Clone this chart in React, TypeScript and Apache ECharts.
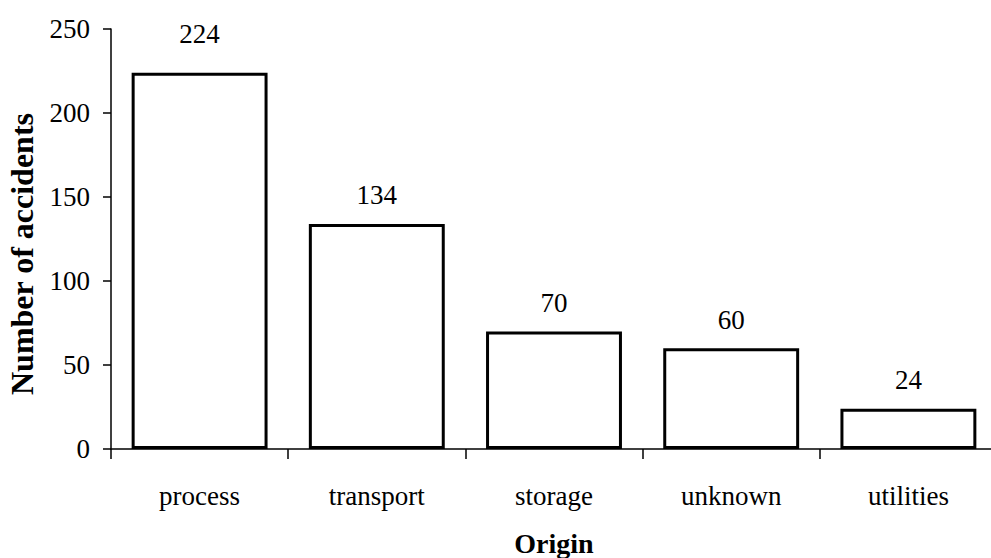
import React, { useEffect, useRef } from "react";
import * as echarts from "echarts";

// Accidents by origin
const origins = ["process", "transport", "storage", "unknown", "utilities"];
const accidentCounts = [224, 134, 70, 60, 24];
const yTicks = { min: 0, max: 250, interval: 50 };

const FONT = "Liberation Serif";

export default function App() {
  const ref = useRef<HTMLDivElement>(null);

  useEffect(() => {
    if (!ref.current) return;
    const chart = echarts.init(ref.current, null, { renderer: "svg" });
    // the tallest bar's label sits a little higher than the rest
    const barData = accidentCounts.map((v, i) =>
      i === 0 ? { value: v, label: { distance: 25 } } : v
    );
    chart.setOption({
      animation: false,
      backgroundColor: "#ffffff",
      textStyle: { fontFamily: FONT, color: "#000" },
      grid: {
        left: 111,
        right: 0,
        top: 29,
        bottom: 109,
        containLabel: false,
        outerBoundsMode: "none",
      },
      xAxis: {
        type: "category",
        data: origins,
        boundaryGap: true,
        axisLine: { show: true, lineStyle: { color: "#000", width: 1.5 } },
        axisTick: { show: true, inside: false, length: 10, lineStyle: { color: "#000", width: 1.5 } },
        axisLabel: { color: "#000", fontFamily: FONT, fontSize: 27, margin: 33 },
        name: "Origin",
        nameLocation: "middle",
        nameGap: 80,
        nameTextStyle: { color: "#000", fontFamily: FONT, fontSize: 28, fontWeight: "bold" },
      },
      yAxis: {
        type: "value",
        min: yTicks.min,
        max: yTicks.max,
        interval: yTicks.interval,
        splitLine: { show: false },
        axisLine: { show: true, lineStyle: { color: "#000", width: 1.5 } },
        axisTick: { show: true, inside: false, length: 8, lineStyle: { color: "#000", width: 1.5 } },
        axisLabel: { color: "#000", fontFamily: FONT, fontSize: 27, margin: 21 },
      },
      graphic: [
        {
          type: "text",
          x: 22,
          y: 254,
          rotation: Math.PI / 2,
          style: {
            text: "Number of accidents",
            fontFamily: FONT,
            fontSize: 32,
            fontWeight: "bold",
            fill: "#000",
            align: "center",
            verticalAlign: "middle",
          },
        },
      ],
      series: [
        {
          type: "bar",
          data: barData,
          barCategoryGap: "23.3%",
          itemStyle: { color: "#ffffff", borderColor: "#000", borderWidth: 3 },
          label: {
            show: true,
            position: "top",
            distance: 15,
            color: "#000",
            fontFamily: FONT,
            fontSize: 27,
          },
        },
      ],
    });
    return () => chart.dispose();
  }, []);

  return (
    <div
      style={{
        position: "absolute",
        left: 0,
        top: 0,
        width: 991,
        height: 558,
        overflow: "hidden",
        background: "#fff",
      }}
    >
      <div ref={ref} style={{ width: 997, height: 558 }} />
    </div>
  );
}
